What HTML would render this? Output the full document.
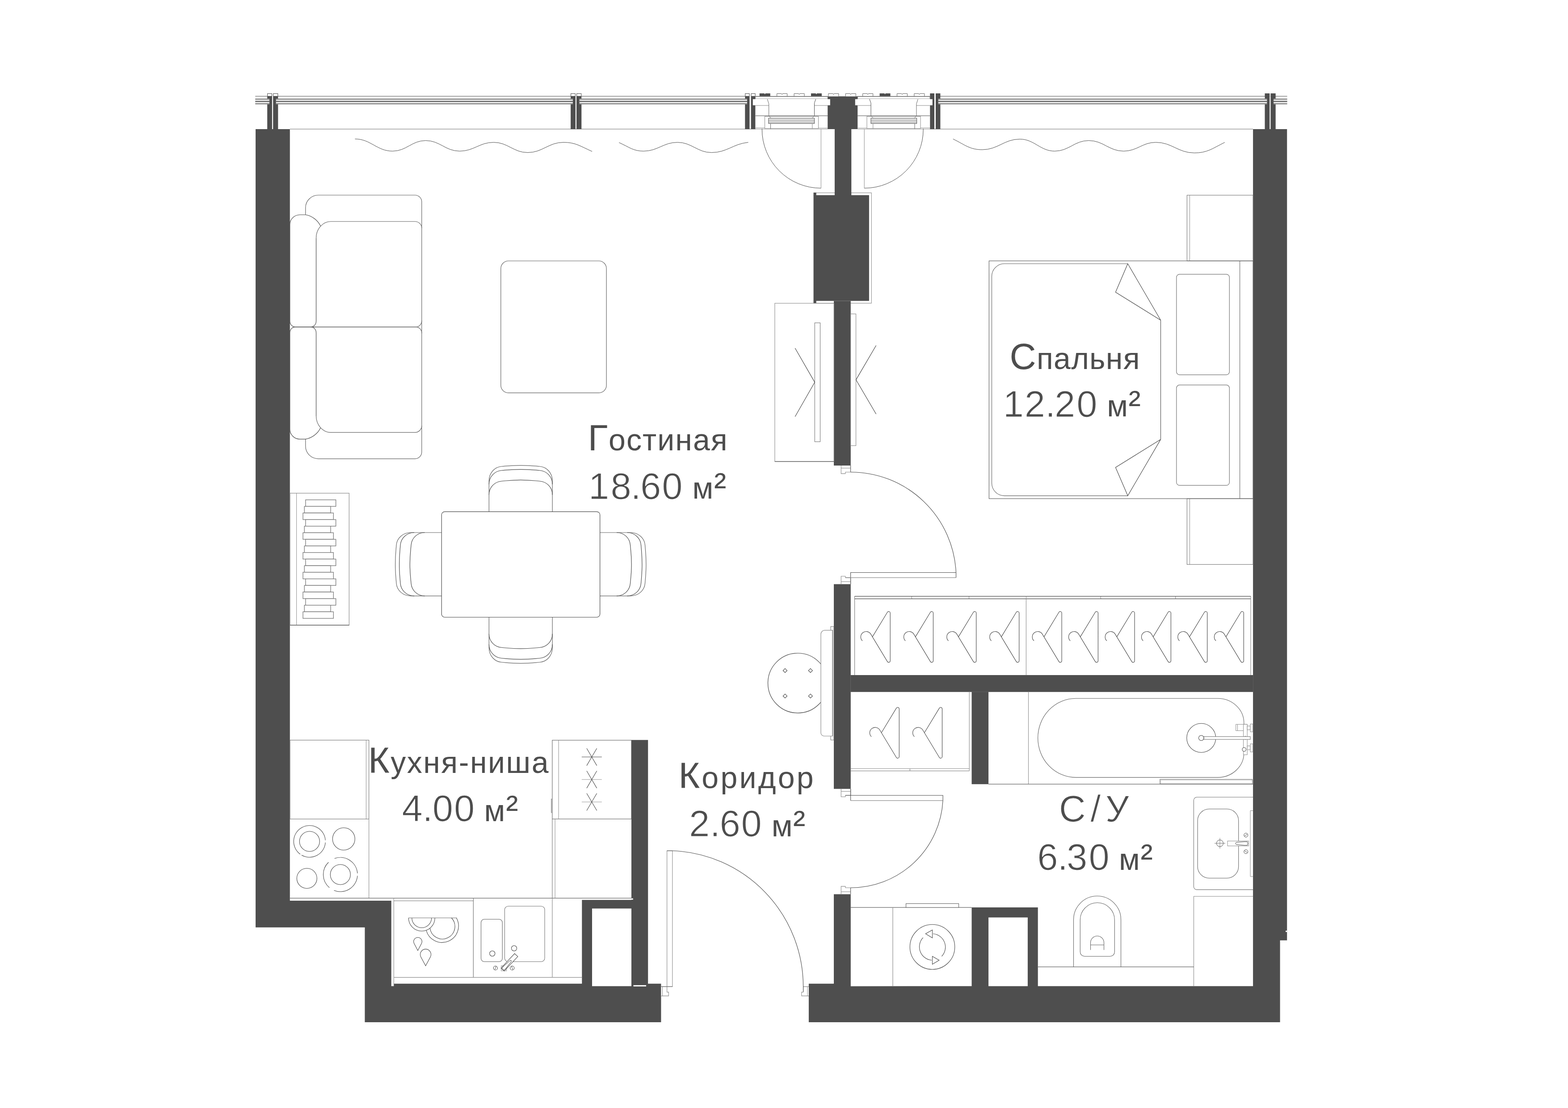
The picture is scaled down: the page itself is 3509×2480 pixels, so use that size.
<!DOCTYPE html>
<html lang="ru"><head><meta charset="utf-8"><title>Планировка</title>
<style>
html,body{margin:0;padding:0;background:#fff;}
body{width:3509px;height:2480px;overflow:hidden;position:relative;}
svg{display:block;position:absolute;left:0;top:0;}
.n{overflow:visible;}
.n text{font-family:"Liberation Sans",sans-serif;font-size:83.2px;fill:#4d4d4d;stroke:#fff;stroke-width:1.2px;}
.t{position:absolute;margin:0;padding:0;white-space:nowrap;line-height:100px;font-family:"Liberation Sans",sans-serif;color:#4d4d4d;font-size:68px;font-kerning:none;font-variant-ligatures:none;}
.w::first-letter{font-size:81.8px;}
.u{font-size:81.8px;}
.u::first-letter{font-size:68px;}
.c{font-size:83.2px;-webkit-text-stroke:1.2px #fff;}
</style></head><body>
<svg width="3509" height="2480" viewBox="0 0 3509 2480">
<rect width="3509" height="2480" fill="#fff"/>
<!-- pre -->
<rect x="1821.2" y="431.6" width="129" height="247" fill="none" stroke="#8c8c8c" stroke-width="1.1"/>
<!-- walls -->
<path d="M572 289 L648.75 289 L648.75 2016 L875.7 2016 L875.7 2207.3 L881.3 2207.3 L881.3 2201.7 L1302.3 2201.7 L1302.3 2014.2 L1413 2014.2 L1413 1656.3 L1450.2 1656.3 L1450.2 2201.7 L1479.4 2201.7 L1479.4 2288.1 L816.4 2288.1 L816.4 2075.7 L572 2075.7Z" fill="#4e4e4e" stroke="none"/>
<rect x="1325" y="2033.5" width="88" height="173.8" fill="#fff" stroke="none"/>
<path d="M1809.9 2201.7 L1866 2201.7 L1866 2001.5 L1903.8 2001.5 L1903.8 2207.4 L2174.5 2207.3 L2174.5 2031.1 L2322.7 2031.1 L2322.7 2207.3 L2804.1 2207.3 L2804.1 289 L2880.2 289 L2880.2 2104.8 L2864.6 2104.8 L2864.6 2288.1 L1809.9 2288.1Z" fill="#4e4e4e" stroke="none"/>
<rect x="2212.1" y="2053.5" width="87.8" height="153.8" fill="#fff" stroke="none"/>
<rect x="1903.6" y="1511" width="900.5" height="37.8" fill="#4e4e4e" stroke="none"/>
<rect x="2174.5" y="1548.5" width="37.6" height="206.7" fill="#4e4e4e" stroke="none"/>
<rect x="1851.9" y="215.6" width="67.85" height="73.4" fill="#4e4e4e" stroke="none"/>
<rect x="1867.9" y="289" width="37.35" height="148" fill="#4e4e4e" stroke="none"/>
<rect x="1820.7" y="436.8" width="124.2" height="236.7" fill="#4e4e4e" stroke="none"/>
<rect x="1866" y="673.5" width="37.8" height="368.5" fill="#4e4e4e" stroke="none"/>
<rect x="1866" y="1307.5" width="37.8" height="458.2" fill="#4e4e4e" stroke="none"/>
<rect x="2877.1" y="2083" width="3.3" height="3.1" fill="#fff" stroke="none"/>
<!-- topband -->
<rect x="648.7" y="288.2" width="1203.3" height="1.4" fill="#999" stroke="none"/>
<rect x="1919.7" y="288.2" width="884.3" height="1.4" fill="#999" stroke="none"/>
<rect x="571.2" y="214.9" width="31.7" height="1" fill="#4d4d4d" stroke="none"/>
<rect x="571.2" y="220.1" width="31.7" height="3.9" fill="#a6a6a6" stroke="none"/>
<rect x="571.2" y="226" width="31.7" height="2" fill="#444" stroke="none"/>
<rect x="571.2" y="230.1" width="31.7" height="3.9" fill="#a6a6a6" stroke="none"/>
<rect x="617.7" y="214.9" width="664.2" height="1" fill="#4d4d4d" stroke="none"/>
<rect x="617.7" y="220.1" width="664.2" height="3.9" fill="#a6a6a6" stroke="none"/>
<rect x="617.7" y="226" width="664.2" height="2" fill="#444" stroke="none"/>
<rect x="617.7" y="230.1" width="664.2" height="3.9" fill="#a6a6a6" stroke="none"/>
<rect x="1296.7" y="214.9" width="375.25" height="1" fill="#4d4d4d" stroke="none"/>
<rect x="1296.7" y="220.1" width="375.25" height="3.9" fill="#a6a6a6" stroke="none"/>
<rect x="1296.7" y="226" width="375.25" height="2" fill="#444" stroke="none"/>
<rect x="1296.7" y="230.1" width="375.25" height="3.9" fill="#a6a6a6" stroke="none"/>
<rect x="2099.8" y="214.9" width="735.8" height="1" fill="#4d4d4d" stroke="none"/>
<rect x="2099.8" y="220.1" width="735.8" height="3.9" fill="#a6a6a6" stroke="none"/>
<rect x="2099.8" y="226" width="735.8" height="2" fill="#444" stroke="none"/>
<rect x="2099.8" y="230.1" width="735.8" height="3.9" fill="#a6a6a6" stroke="none"/>
<rect x="2849.8" y="214.9" width="30.8" height="1" fill="#4d4d4d" stroke="none"/>
<rect x="2849.8" y="220.1" width="30.8" height="3.9" fill="#a6a6a6" stroke="none"/>
<rect x="2849.8" y="226" width="30.8" height="2" fill="#444" stroke="none"/>
<rect x="2849.8" y="230.1" width="30.8" height="3.9" fill="#a6a6a6" stroke="none"/>
<path d="M598.1 215 L608.9 215 L608.9 289 L598.1 289 L598.1 233.2 L602.9 233.2 L602.9 220.9 L598.1 220.9Z" fill="#4e4e4e" stroke="none"/>
<path d="M611.1 215 L622.3 215 L622.3 220.9 L617.7 220.9 L617.7 233.2 L622.3 233.2 L622.3 289 L611.1 289Z" fill="#4e4e4e" stroke="none"/>
<rect x="598.6" y="209.5" width="9.8" height="5.9" fill="#fff" stroke="#4d4d4d" stroke-width="1"/>
<rect x="611.6" y="209.5" width="10.2" height="5.9" fill="#fff" stroke="#4d4d4d" stroke-width="1"/>
<path d="M1277.1 215 L1287.9 215 L1287.9 289 L1277.1 289 L1277.1 233.2 L1281.9 233.2 L1281.9 220.9 L1277.1 220.9Z" fill="#4e4e4e" stroke="none"/>
<path d="M1290.1 215 L1301.3 215 L1301.3 220.9 L1296.7 220.9 L1296.7 233.2 L1301.3 233.2 L1301.3 289 L1290.1 289Z" fill="#4e4e4e" stroke="none"/>
<rect x="1277.6" y="209.5" width="9.8" height="5.9" fill="#fff" stroke="#4d4d4d" stroke-width="1"/>
<rect x="1290.6" y="209.5" width="10.2" height="5.9" fill="#fff" stroke="#4d4d4d" stroke-width="1"/>
<path d="M2830.5 215 L2841.3 215 L2841.3 289 L2830.5 289 L2830.5 233.2 L2835.3 233.2 L2835.3 220.9 L2830.5 220.9Z" fill="#4e4e4e" stroke="none"/>
<path d="M2843.5 215 L2854.7 215 L2854.7 220.9 L2850.1 220.9 L2850.1 233.2 L2854.7 233.2 L2854.7 289 L2843.5 289Z" fill="#4e4e4e" stroke="none"/>
<rect x="2830.5" y="209" width="10.8" height="7" fill="#4e4e4e" stroke="none"/>
<rect x="2843.5" y="209" width="11.2" height="7" fill="#4e4e4e" stroke="none"/>
<path d="M1667.25 215.4 L1677.5 215.4 L1677.5 289 L1667.25 289 L1667.25 233.2 L1671.95 233.2 L1671.95 220.9 L1667.25 220.9Z" fill="#4e4e4e" stroke="none"/>
<rect x="1667.75" y="209.5" width="9.25" height="5.9" fill="#fff" stroke="#4d4d4d" stroke-width="1"/>
<rect x="1680.6" y="215.4" width="10" height="73.6" fill="#4e4e4e" stroke="none"/>
<rect x="1681.1" y="209.5" width="9" height="5.9" fill="#fff" stroke="#4d4d4d" stroke-width="1"/>
<rect x="2081.25" y="215.4" width="9.75" height="73.6" fill="#4e4e4e" stroke="none"/>
<rect x="2081.25" y="209" width="9.75" height="7" fill="#4e4e4e" stroke="none"/>
<path d="M2094 215.4 L2104.4 215.4 L2104.4 220.9 L2099.8 220.9 L2099.8 233.2 L2104.4 233.2 L2104.4 289 L2094 289Z" fill="#4e4e4e" stroke="none"/>
<rect x="2094" y="209" width="10.4" height="7" fill="#4e4e4e" stroke="none"/>
<path d="M1699.75 215.6 V209 H1710.45 l1.3 2 l1.3 -2 H1723.75 V215.6 Z" fill="#4e4e4e" stroke="none" stroke-width="1"/>
<path d="M1738.65 215.6 V209.5 H1748.85 l1.3 2 l1.3 -2 H1761.65 V215.6" fill="#fff" stroke="#666" stroke-width="1"/>
<path d="M1777.05 215.6 V209.5 H1787.25 l1.3 2 l1.3 -2 H1800.05 V215.6" fill="#fff" stroke="#666" stroke-width="1"/>
<path d="M1814.95 215.6 V209 H1825.65 l1.3 2 l1.3 -2 H1838.95 V215.6 Z" fill="#4e4e4e" stroke="none" stroke-width="1"/>
<path d="M1853.85 215.6 V209.5 H1864.05 l1.3 2 l1.3 -2 H1876.85 V215.6" fill="#fff" stroke="#666" stroke-width="1"/>
<path d="M1892.25 215.6 V209.5 H1902.45 l1.3 2 l1.3 -2 H1915.25 V215.6" fill="#fff" stroke="#666" stroke-width="1"/>
<path d="M1930.65 215.6 V209.5 H1940.85 l1.3 2 l1.3 -2 H1953.65 V215.6" fill="#fff" stroke="#666" stroke-width="1"/>
<path d="M1968.55 215.6 V209 H1979.25 l1.3 2 l1.3 -2 H1992.55 V215.6 Z" fill="#4e4e4e" stroke="none" stroke-width="1"/>
<path d="M2007.45 215.6 V209.5 H2017.65 l1.3 2 l1.3 -2 H2030.45 V215.6" fill="#fff" stroke="#666" stroke-width="1"/>
<path d="M2045.85 215.6 V209.5 H2056.05 l1.3 2 l1.3 -2 H2068.85 V215.6" fill="#fff" stroke="#666" stroke-width="1"/>
<rect x="1690.6" y="215.6" width="161.6" height="5.4" fill="#fff" stroke="#8a8a8a" stroke-width="1"/>
<line x1="1690.6" y1="216" x2="1852.2" y2="216" stroke="#4d4d4d" stroke-width="1"/>
<rect x="1690.6" y="221.5" width="161.6" height="67" fill="#fff" stroke="none"/>
<rect x="1684.75" y="221.9" width="34.65" height="13.7" fill="#fff" stroke="none"/>
<rect x="1823.1" y="221.9" width="34.65" height="13.7" fill="#fff" stroke="none"/>
<line x1="1690.6" y1="236.1" x2="1720.6" y2="236.1" stroke="#8a8a8a" stroke-width="1"/>
<line x1="1822.5" y1="236.1" x2="1852" y2="236.1" stroke="#8a8a8a" stroke-width="1"/>
<path d="M1717.25 221.9 L1720.6 232.5 V258.75" fill="none" stroke="#666" stroke-width="1"/>
<path d="M1825.6 221.9 L1822.5 230.6 V258.75" fill="none" stroke="#4d4d4d" stroke-width="1"/>
<line x1="1690.6" y1="259.1" x2="1852.2" y2="259.1" stroke="#4d4d4d" stroke-width="1"/>
<path d="M1720.6 259 L1725 264.4" fill="none" stroke="#4d4d4d" stroke-width="0.8"/>
<path d="M1822.5 259 L1817.5 264.4" fill="none" stroke="#4d4d4d" stroke-width="0.8"/>
<rect x="1711.5" y="260.5" width="120" height="27" fill="none" stroke="#8a8a8a" stroke-width="1"/>
<rect x="1719.9" y="264.6" width="102.6" height="11.8" fill="#fff" stroke="#4d4d4d" stroke-width="1"/>
<line x1="1720" y1="267.4" x2="1822.5" y2="267.4" stroke="#8a8a8a" stroke-width="1"/>
<line x1="1720" y1="270.7" x2="1822.5" y2="270.7" stroke="#4d4d4d" stroke-width="1"/>
<line x1="1720" y1="274.3" x2="1822.5" y2="274.3" stroke="#4d4d4d" stroke-width="0.8"/>
<line x1="1724.5" y1="276.5" x2="1724.5" y2="288.5" stroke="#666" stroke-width="1"/>
<line x1="1817.8" y1="276.5" x2="1817.8" y2="288.5" stroke="#8a8a8a" stroke-width="1"/>
<line x1="1690.6" y1="286.4" x2="1711.5" y2="286.4" stroke="#8a8a8a" stroke-width="1"/>
<line x1="1831.5" y1="286.8" x2="1852" y2="286.8" stroke="#8a8a8a" stroke-width="1"/>
<line x1="1837.3" y1="289" x2="1837.3" y2="421.2" stroke="#8a8a8a" stroke-width="1"/>
<path d="M1705.3 288 V289 A132 132 0 0 0 1837.3 421.2" fill="none" stroke="#4d4d4d" stroke-width="1"/>
<g transform="translate(3771.5 0) scale(-1 1)">
<rect x="1690.6" y="215.6" width="161.6" height="5.4" fill="#fff" stroke="#8a8a8a" stroke-width="1"/>
<line x1="1690.6" y1="216" x2="1852.2" y2="216" stroke="#4d4d4d" stroke-width="1"/>
<rect x="1690.6" y="221.5" width="161.6" height="67" fill="#fff" stroke="none"/>
<rect x="1684.75" y="221.9" width="34.65" height="13.7" fill="#fff" stroke="none"/>
<rect x="1823.1" y="221.9" width="34.65" height="13.7" fill="#fff" stroke="none"/>
<line x1="1690.6" y1="236.1" x2="1720.6" y2="236.1" stroke="#8a8a8a" stroke-width="1"/>
<line x1="1822.5" y1="236.1" x2="1852" y2="236.1" stroke="#8a8a8a" stroke-width="1"/>
<path d="M1717.25 221.9 L1720.6 232.5 V258.75" fill="none" stroke="#666" stroke-width="1"/>
<path d="M1825.6 221.9 L1822.5 230.6 V258.75" fill="none" stroke="#4d4d4d" stroke-width="1"/>
<line x1="1690.6" y1="259.1" x2="1852.2" y2="259.1" stroke="#4d4d4d" stroke-width="1"/>
<path d="M1720.6 259 L1725 264.4" fill="none" stroke="#4d4d4d" stroke-width="0.8"/>
<path d="M1822.5 259 L1817.5 264.4" fill="none" stroke="#4d4d4d" stroke-width="0.8"/>
<rect x="1711.5" y="260.5" width="120" height="27" fill="none" stroke="#8a8a8a" stroke-width="1"/>
<rect x="1719.9" y="264.6" width="102.6" height="11.8" fill="#fff" stroke="#4d4d4d" stroke-width="1"/>
<line x1="1720" y1="267.4" x2="1822.5" y2="267.4" stroke="#8a8a8a" stroke-width="1"/>
<line x1="1720" y1="270.7" x2="1822.5" y2="270.7" stroke="#4d4d4d" stroke-width="1"/>
<line x1="1720" y1="274.3" x2="1822.5" y2="274.3" stroke="#4d4d4d" stroke-width="0.8"/>
<line x1="1724.5" y1="276.5" x2="1724.5" y2="288.5" stroke="#666" stroke-width="1"/>
<line x1="1817.8" y1="276.5" x2="1817.8" y2="288.5" stroke="#8a8a8a" stroke-width="1"/>
<line x1="1690.6" y1="286.4" x2="1711.5" y2="286.4" stroke="#8a8a8a" stroke-width="1"/>
<line x1="1831.5" y1="286.8" x2="1852" y2="286.8" stroke="#8a8a8a" stroke-width="1"/>
<line x1="1837.3" y1="289" x2="1837.3" y2="421.2" stroke="#8a8a8a" stroke-width="1"/>
<path d="M1705.3 288 V289 A132 132 0 0 0 1837.3 421.2" fill="none" stroke="#4d4d4d" stroke-width="1"/>
</g>
<path d="M794.39 311.01 C829.72 311.01 843.18 338.25 878.5 338.25 C909.63 338.25 921.48 314.62 952.6 314.62 C984.57 314.62 996.74 338.25 1028.7 338.25 C1060.67 338.25 1072.84 318.62 1104.81 318.62 C1136.77 318.62 1148.95 341.46 1180.91 341.46 C1214.55 341.46 1227.37 318.62 1261.01 318.62 C1287.93 318.62 1298.18 326.94 1325.1 339.05" fill="none" stroke="#4d4d4d" stroke-width="1"/>
<path d="M1385.31 319.03 C1408.36 329.4 1417.14 338.25 1440.19 338.25 C1472.15 338.25 1484.33 318.62 1516.29 318.62 C1548.25 318.62 1560.43 341.46 1592.39 341.46 C1626.88 341.46 1640.01 322.07 1674.5 318.62" fill="none" stroke="#4d4d4d" stroke-width="1"/>
<path d="M2132.84 311.01 C2160.26 324.72 2170.71 335.05 2198.13 335.05 C2233.46 335.05 2246.92 311.42 2282.24 311.42 C2315.05 311.42 2327.54 338.25 2360.35 338.25 C2392.31 338.25 2404.49 314.62 2436.45 314.62 C2469.25 314.62 2481.75 338.25 2514.55 338.25 C2544.83 338.25 2556.37 318.62 2586.65 318.62 C2622.82 318.62 2636.6 342.26 2672.76 342.26 C2701.36 342.26 2712.26 332.92 2740.85 318.62" fill="none" stroke="#4d4d4d" stroke-width="1"/>
<!-- living -->
<path d="M683.75 480.75 L683.75 465 C683.75 449.25 696.75 436.75 712.5 436.75 L928.75 436.75 C937 436.75 943.75 443.5 943.75 451.75 L943.75 731.75" fill="none" stroke="#666" stroke-width="1.2"/>
<path d="M648.75 718.75 L648.75 502.5 C648.75 490.5 658.75 480.75 671.25 480.75 L683.75 480.75 C697 482.5 711.25 492.5 717.5 506.25 M707.5 532.5 L707.5 718.75 C707.5 726 702.5 731.75 695.5 731.75 L660.5 731.75 C653.75 731.75 648.75 726 648.75 718.75" fill="none" stroke="#4d4d4d" stroke-width="1.2"/>
<path d="M707.5 532.5 C707.5 512.25 722.5 495.75 740 495.75 L928.75 495.75 C937 495.75 943.75 502.5 943.75 510.5 M943.75 717.5 C943.75 725.5 938 731.75 931.25 731.75 L695.5 731.75" fill="none" stroke="#666" stroke-width="1.2"/>
<g transform="translate(0 1463.6) scale(1 -1)">
<path d="M683.75 480.75 L683.75 465 C683.75 449.25 696.75 436.75 712.5 436.75 L928.75 436.75 C937 436.75 943.75 443.5 943.75 451.75 L943.75 731.75" fill="none" stroke="#666" stroke-width="1.2"/>
<path d="M648.75 718.75 L648.75 502.5 C648.75 490.5 658.75 480.75 671.25 480.75 L683.75 480.75 C697 482.5 711.25 492.5 717.5 506.25 M707.5 532.5 L707.5 718.75 C707.5 726 702.5 731.75 695.5 731.75 L660.5 731.75 C653.75 731.75 648.75 726 648.75 718.75" fill="none" stroke="#4d4d4d" stroke-width="1.2"/>
<path d="M707.5 532.5 C707.5 512.25 722.5 495.75 740 495.75 L928.75 495.75 C937 495.75 943.75 502.5 943.75 510.5 M943.75 717.5 C943.75 725.5 938 731.75 931.25 731.75 L695.5 731.75" fill="none" stroke="#666" stroke-width="1.2"/>
</g>
<rect x="1120.8" y="584" width="236.3" height="295.3" fill="none" stroke="#666" stroke-width="1.2" rx="17"/>
<g transform="translate(1165.25 1145) rotate(0)">
<path d="M-70.9 0 V-68.5 C-70.9 -86.38 -58.4 -99.76 -42.9 -101 C-28.9 -102.1 -21 -103.4 0 -103.4 C21 -103.4 28.9 -102.1 42.9 -101 C58.4 -99.76 70.9 -86.38 70.9 -68.5 V0" fill="none" stroke="#666" stroke-width="1.2"/>
<path d="M-70.9 -61 C-70.9 -78.05 -58.4 -90.76 -42.9 -92 C-28.9 -93.1 -21 -94.4 0 -94.4 C21 -94.4 28.9 -93.1 42.9 -92 C58.4 -90.76 70.9 -78.05 70.9 -61" fill="none" stroke="#4d4d4d" stroke-width="1.2"/>
<path d="M-70.9 -37.5 C-70.9 -54.28 -58.4 -66.76 -42.9 -68 C-28.9 -69.1 -21 -70.7 0 -70.7 C21 -70.7 28.9 -69.1 42.9 -68 C58.4 -66.76 70.9 -54.28 70.9 -37.5" fill="none" stroke="#4d4d4d" stroke-width="1.2"/>
</g>
<g transform="translate(1165.25 1381.25) rotate(180)">
<path d="M-70.9 0 V-68.5 C-70.9 -86.38 -58.4 -99.76 -42.9 -101 C-28.9 -102.1 -21 -103.4 0 -103.4 C21 -103.4 28.9 -102.1 42.9 -101 C58.4 -99.76 70.9 -86.38 70.9 -68.5 V0" fill="none" stroke="#666" stroke-width="1.2"/>
<path d="M-70.9 -61 C-70.9 -78.05 -58.4 -90.76 -42.9 -92 C-28.9 -93.1 -21 -94.4 0 -94.4 C21 -94.4 28.9 -93.1 42.9 -92 C58.4 -90.76 70.9 -78.05 70.9 -61" fill="none" stroke="#4d4d4d" stroke-width="1.2"/>
<path d="M-70.9 -37.5 C-70.9 -54.28 -58.4 -66.76 -42.9 -68 C-28.9 -69.1 -21 -70.7 0 -70.7 C21 -70.7 28.9 -69.1 42.9 -68 C58.4 -66.76 70.9 -54.28 70.9 -37.5" fill="none" stroke="#4d4d4d" stroke-width="1.2"/>
</g>
<g transform="translate(988 1262.9) rotate(-90)">
<path d="M-70.9 0 V-68.5 C-70.9 -86.38 -58.4 -99.76 -42.9 -101 C-28.9 -102.1 -21 -103.4 0 -103.4 C21 -103.4 28.9 -102.1 42.9 -101 C58.4 -99.76 70.9 -86.38 70.9 -68.5 V0" fill="none" stroke="#666" stroke-width="1.2"/>
<path d="M-70.9 -61 C-70.9 -78.05 -58.4 -90.76 -42.9 -92 C-28.9 -93.1 -21 -94.4 0 -94.4 C21 -94.4 28.9 -93.1 42.9 -92 C58.4 -90.76 70.9 -78.05 70.9 -61" fill="none" stroke="#4d4d4d" stroke-width="1.2"/>
<path d="M-70.9 -37.5 C-70.9 -54.28 -58.4 -66.76 -42.9 -68 C-28.9 -69.1 -21 -70.7 0 -70.7 C21 -70.7 28.9 -69.1 42.9 -68 C58.4 -66.76 70.9 -54.28 70.9 -37.5" fill="none" stroke="#4d4d4d" stroke-width="1.2"/>
</g>
<g transform="translate(1342.5 1262.9) rotate(90)">
<path d="M-70.9 0 V-68.5 C-70.9 -86.38 -58.4 -99.76 -42.9 -101 C-28.9 -102.1 -21 -103.4 0 -103.4 C21 -103.4 28.9 -102.1 42.9 -101 C58.4 -99.76 70.9 -86.38 70.9 -68.5 V0" fill="none" stroke="#666" stroke-width="1.2"/>
<path d="M-70.9 -61 C-70.9 -78.05 -58.4 -90.76 -42.9 -92 C-28.9 -93.1 -21 -94.4 0 -94.4 C21 -94.4 28.9 -93.1 42.9 -92 C58.4 -90.76 70.9 -78.05 70.9 -61" fill="none" stroke="#4d4d4d" stroke-width="1.2"/>
<path d="M-70.9 -37.5 C-70.9 -54.28 -58.4 -66.76 -42.9 -68 C-28.9 -69.1 -21 -70.7 0 -70.7 C21 -70.7 28.9 -69.1 42.9 -68 C58.4 -66.76 70.9 -54.28 70.9 -37.5" fill="none" stroke="#4d4d4d" stroke-width="1.2"/>
</g>
<rect x="988.2" y="1145.3" width="354.4" height="236.2" fill="#fff" stroke="#4d4d4d" stroke-width="1.2" rx="7"/>
<rect x="649" y="1103.9" width="132.3" height="295.4" fill="none" stroke="#8c8c8c" stroke-width="1.2"/>
<line x1="649" y1="1399.3" x2="781.3" y2="1399.3" stroke="#4d4d4d" stroke-width="1.2"/>
<line x1="663.6" y1="1104" x2="663.6" y2="1399" stroke="#8c8c8c" stroke-width="1"/>
<rect x="683.9" y="1118.7" width="67.7" height="14.74" fill="#fff" stroke="#777" stroke-width="1.3"/>
<rect x="681.2" y="1133.44" width="58.8" height="14.74" fill="#fff" stroke="#777" stroke-width="1.3"/>
<rect x="678" y="1148.19" width="68.2" height="14.74" fill="#fff" stroke="#777" stroke-width="1.3"/>
<rect x="683.9" y="1162.93" width="67.7" height="14.74" fill="#fff" stroke="#777" stroke-width="1.3"/>
<rect x="681.2" y="1177.68" width="58.8" height="14.74" fill="#fff" stroke="#777" stroke-width="1.3"/>
<rect x="678" y="1192.42" width="68.2" height="14.74" fill="#fff" stroke="#777" stroke-width="1.3"/>
<rect x="683.9" y="1207.17" width="67.7" height="14.74" fill="#fff" stroke="#777" stroke-width="1.3"/>
<rect x="681.2" y="1221.91" width="58.8" height="14.74" fill="#fff" stroke="#777" stroke-width="1.3"/>
<rect x="678" y="1236.66" width="68.2" height="14.74" fill="#fff" stroke="#777" stroke-width="1.3"/>
<rect x="683.9" y="1251.4" width="67.7" height="14.74" fill="#fff" stroke="#777" stroke-width="1.3"/>
<rect x="681.2" y="1266.14" width="58.8" height="14.74" fill="#fff" stroke="#777" stroke-width="1.3"/>
<rect x="678" y="1280.89" width="68.2" height="14.74" fill="#fff" stroke="#777" stroke-width="1.3"/>
<rect x="683.9" y="1295.63" width="67.7" height="14.74" fill="#fff" stroke="#777" stroke-width="1.3"/>
<rect x="681.2" y="1310.38" width="58.8" height="14.74" fill="#fff" stroke="#777" stroke-width="1.3"/>
<rect x="678" y="1325.12" width="68.2" height="14.74" fill="#fff" stroke="#777" stroke-width="1.3"/>
<rect x="683.9" y="1339.87" width="67.7" height="14.74" fill="#fff" stroke="#777" stroke-width="1.3"/>
<rect x="681.2" y="1354.61" width="58.8" height="14.74" fill="#fff" stroke="#777" stroke-width="1.3"/>
<rect x="678" y="1369.36" width="68.2" height="14.74" fill="#fff" stroke="#777" stroke-width="1.3"/>
<!-- center -->
<rect x="1820.7" y="431" width="6" height="6.5" fill="#4e4e4e" stroke="none"/>
<rect x="1820.7" y="673" width="6" height="6" fill="#4e4e4e" stroke="none"/>
<rect x="1733.9" y="678.8" width="132.3" height="354.2" fill="none" stroke="#8c8c8c" stroke-width="1.1"/>
<line x1="1733.9" y1="1033" x2="1866.2" y2="1033" stroke="#4d4d4d" stroke-width="1.2"/>
<rect x="1823.3" y="722.6" width="12.2" height="266.1" fill="#fff" stroke="#777" stroke-width="1.1"/>
<path d="M1779.3 779.3 L1823.3 855.6 L1779.3 932.5" fill="none" stroke="#4d4d4d" stroke-width="1.2"/>
<rect x="1903.7" y="702.6" width="11.8" height="294.9" fill="#fff" stroke="#8c8c8c" stroke-width="1.1"/>
<path d="M1960.6 773.3 L1915.6 850.1 L1960.6 926.8" fill="none" stroke="#4d4d4d" stroke-width="1.2"/>
<path d="M1882.3 1042 V1060.1 H1891.9 V1056.7 H1903.6" fill="#fff" stroke="#8c8c8c" stroke-width="1.1"/>
<line x1="1882.3" y1="1047.8" x2="1903.6" y2="1047.8" stroke="#8c8c8c" stroke-width="1.1"/>
<line x1="1903.6" y1="1042" x2="1903.6" y2="1056.7" stroke="#4d4d4d" stroke-width="1.1"/>
<path d="M1882.3 1307.6 V1289.8 H1891.9 V1292.9 H1903.6" fill="#fff" stroke="#8c8c8c" stroke-width="1.1"/>
<line x1="1882.3" y1="1301.9" x2="1903.6" y2="1301.9" stroke="#8c8c8c" stroke-width="1.1"/>
<line x1="1903.6" y1="1292.9" x2="1903.6" y2="1307.6" stroke="#4d4d4d" stroke-width="1.1"/>
<path d="M1903.6 1307.6 V1281.5 H2139.5 V1292.9" fill="none" stroke="#4d4d4d" stroke-width="1.1"/>
<line x1="1891.9" y1="1292.9" x2="2139.5" y2="1292.9" stroke="#8c8c8c" stroke-width="1.2"/>
<path d="M1903.6 1056.7 A236 236 0 0 1 2139.5 1281.5" fill="none" stroke="#4d4d4d" stroke-width="1.1"/>
<path d="M1882.3 1765.7 V1783.5 H1891.9 V1780.3 H1903.6" fill="#fff" stroke="#8c8c8c" stroke-width="1.1"/>
<line x1="1882.3" y1="1771.3" x2="1903.6" y2="1771.3" stroke="#8c8c8c" stroke-width="1.1"/>
<line x1="1903.6" y1="1765.7" x2="1903.6" y2="1780.3" stroke="#4d4d4d" stroke-width="1.1"/>
<path d="M1882.3 2001.6 V1983.9 H1891.9 V1987 H1903.6" fill="#fff" stroke="#8c8c8c" stroke-width="1.1"/>
<line x1="1882.3" y1="1996" x2="1903.6" y2="1996" stroke="#8c8c8c" stroke-width="1.1"/>
<line x1="1903.6" y1="1987" x2="1903.6" y2="2001.6" stroke="#4d4d4d" stroke-width="1.1"/>
<path d="M1891.9 1780.3 H2110.1 V1791.9" fill="none" stroke="#4d4d4d" stroke-width="1.1"/>
<path d="M1903.6 1765.7 V1791.9" fill="none" stroke="#4d4d4d" stroke-width="1.1"/>
<line x1="1903.6" y1="1791.9" x2="2110.1" y2="1791.9" stroke="#8c8c8c" stroke-width="1.2"/>
<path d="M2110.1 1791.9 A206.5 206.5 0 0 1 1903.6 1987.0" fill="none" stroke="#4d4d4d" stroke-width="1.1"/>
<path d="M1479.8 2208.4 H1492.6 V2220.6 H1496.3 V2229.1 H1479.8" fill="#fff" stroke="#8c8c8c" stroke-width="1.1"/>
<line x1="1482.5" y1="2208.4" x2="1482.5" y2="2229.1" stroke="#8c8c8c" stroke-width="1"/>
<path d="M1809.8 2208.4 H1797.6 V2220.6 H1793.9 V2229.1 H1809.8" fill="#fff" stroke="#8c8c8c" stroke-width="1.1"/>
<line x1="1807" y1="2208.4" x2="1807" y2="2229.1" stroke="#8c8c8c" stroke-width="1"/>
<path d="M1492.6 2208.4 V1904.2 H1504.8 V2208.4 Z" fill="#fff" stroke="#8c8c8c" stroke-width="1.1"/>
<line x1="1479.8" y1="2208.4" x2="1504.8" y2="2208.4" stroke="#666" stroke-width="1.1"/>
<path d="M1492.6 1904.2 H1504.8 A304.6 304.6 0 0 1 1797.6 2208.4 V2220" fill="none" stroke="#4d4d4d" stroke-width="1.1"/>
<rect x="1417.5" y="2205" width="28.5" height="2.9" fill="#fff" stroke="none"/>
<!-- bedroom -->
<rect x="2656.4" y="436.9" width="147.7" height="147" fill="none" stroke="#777" stroke-width="1.1"/>
<line x1="2662.4" y1="437" x2="2662.4" y2="584" stroke="#8c8c8c" stroke-width="1"/>
<rect x="2656.4" y="1116.1" width="147.7" height="147.3" fill="none" stroke="#777" stroke-width="1.1"/>
<line x1="2662.4" y1="1116" x2="2662.4" y2="1263.4" stroke="#8c8c8c" stroke-width="1"/>
<rect x="2213.4" y="583.9" width="590.7" height="532.2" fill="none" stroke="#666" stroke-width="1.2"/>
<line x1="2774.6" y1="584" x2="2774.6" y2="1116" stroke="#666" stroke-width="1.1"/>
<path d="M2523.8 590.3 H2247.4 A28 28 0 0 0 2219.5 618.3 V1081.6 A28 28 0 0 0 2247.4 1109.6 H2523.8" fill="none" stroke="#666" stroke-width="1.1"/>
<path d="M2523.8 590.3 L2496.5 654 L2597.5 716.8 Z" fill="#fff" stroke="#4d4d4d" stroke-width="1.2"/>
<path d="M2523.8 1109.6 L2496.5 1046.3 L2597.5 983.4 Z" fill="#fff" stroke="#4d4d4d" stroke-width="1.2"/>
<line x1="2597.5" y1="716.8" x2="2597.5" y2="983.4" stroke="#4d4d4d" stroke-width="1.1"/>
<rect x="2632.8" y="613.9" width="118.5" height="225" fill="none" stroke="#777" stroke-width="1.2" rx="7"/>
<rect x="2632.8" y="861.7" width="118.5" height="224.7" fill="none" stroke="#777" stroke-width="1.2" rx="7"/>
<line x1="1912.5" y1="1334.6" x2="2799" y2="1334.6" stroke="#4d4d4d" stroke-width="1.2"/>
<line x1="1912.5" y1="1340.4" x2="2799" y2="1340.4" stroke="#4d4d4d" stroke-width="1.2"/>
<line x1="1912.6" y1="1334.6" x2="1912.6" y2="1511.3" stroke="#777" stroke-width="1.1"/>
<line x1="2799" y1="1334.6" x2="2799" y2="1511.3" stroke="#888" stroke-width="1.1"/>
<line x1="2040.4" y1="1334.6" x2="2040.4" y2="1340.4" stroke="#777" stroke-width="1"/>
<line x1="2168.5" y1="1334.6" x2="2168.5" y2="1340.4" stroke="#777" stroke-width="1"/>
<line x1="2463.4" y1="1334.6" x2="2463.4" y2="1340.4" stroke="#777" stroke-width="1"/>
<line x1="2630.8" y1="1334.6" x2="2630.8" y2="1340.4" stroke="#777" stroke-width="1"/>
<line x1="2296.4" y1="1334.6" x2="2296.4" y2="1511.3" stroke="#8c8c8c" stroke-width="1.1"/>
<g transform="translate(1991.9 1425.6)">
<path d="M-39.6 0 L-6.0 -55.3 A3.4 3.4 0 0 1 0.3 -53.8 V53.8 A3.4 3.4 0 0 1 -6.0 55.3 L-43.3 -6.5 A12.1 12.1 0 1 0 -61.86 8.75" fill="none" stroke="#4d4d4d" stroke-width="1.15"/>
</g>
<g transform="translate(2088.15 1425.6)">
<path d="M-39.6 0 L-6.0 -55.3 A3.4 3.4 0 0 1 0.3 -53.8 V53.8 A3.4 3.4 0 0 1 -6.0 55.3 L-43.3 -6.5 A12.1 12.1 0 1 0 -61.86 8.75" fill="none" stroke="#4d4d4d" stroke-width="1.15"/>
</g>
<g transform="translate(2184.4 1425.6)">
<path d="M-39.6 0 L-6.0 -55.3 A3.4 3.4 0 0 1 0.3 -53.8 V53.8 A3.4 3.4 0 0 1 -6.0 55.3 L-43.3 -6.5 A12.1 12.1 0 1 0 -61.86 8.75" fill="none" stroke="#4d4d4d" stroke-width="1.15"/>
</g>
<g transform="translate(2280.4 1425.6)">
<path d="M-39.6 0 L-6.0 -55.3 A3.4 3.4 0 0 1 0.3 -53.8 V53.8 A3.4 3.4 0 0 1 -6.0 55.3 L-43.3 -6.5 A12.1 12.1 0 1 0 -61.86 8.75" fill="none" stroke="#4d4d4d" stroke-width="1.15"/>
</g>
<g transform="translate(2375.8 1425.6)">
<path d="M-39.6 0 L-6.0 -55.3 A3.4 3.4 0 0 1 0.3 -53.8 V53.8 A3.4 3.4 0 0 1 -6.0 55.3 L-43.3 -6.5 A12.1 12.1 0 1 0 -61.86 8.75" fill="none" stroke="#4d4d4d" stroke-width="1.15"/>
</g>
<g transform="translate(2457.1 1425.6)">
<path d="M-39.6 0 L-6.0 -55.3 A3.4 3.4 0 0 1 0.3 -53.8 V53.8 A3.4 3.4 0 0 1 -6.0 55.3 L-43.3 -6.5 A12.1 12.1 0 1 0 -61.86 8.75" fill="none" stroke="#4d4d4d" stroke-width="1.15"/>
</g>
<g transform="translate(2538.8 1425.6)">
<path d="M-39.6 0 L-6.0 -55.3 A3.4 3.4 0 0 1 0.3 -53.8 V53.8 A3.4 3.4 0 0 1 -6.0 55.3 L-43.3 -6.5 A12.1 12.1 0 1 0 -61.86 8.75" fill="none" stroke="#4d4d4d" stroke-width="1.15"/>
</g>
<g transform="translate(2620.1 1425.6)">
<path d="M-39.6 0 L-6.0 -55.3 A3.4 3.4 0 0 1 0.3 -53.8 V53.8 A3.4 3.4 0 0 1 -6.0 55.3 L-43.3 -6.5 A12.1 12.1 0 1 0 -61.86 8.75" fill="none" stroke="#4d4d4d" stroke-width="1.15"/>
</g>
<g transform="translate(2701.4 1425.6)">
<path d="M-39.6 0 L-6.0 -55.3 A3.4 3.4 0 0 1 0.3 -53.8 V53.8 A3.4 3.4 0 0 1 -6.0 55.3 L-43.3 -6.5 A12.1 12.1 0 1 0 -61.86 8.75" fill="none" stroke="#4d4d4d" stroke-width="1.15"/>
</g>
<g transform="translate(2783 1425.6)">
<path d="M-39.6 0 L-6.0 -55.3 A3.4 3.4 0 0 1 0.3 -53.8 V53.8 A3.4 3.4 0 0 1 -6.0 55.3 L-43.3 -6.5 A12.1 12.1 0 1 0 -61.86 8.75" fill="none" stroke="#4d4d4d" stroke-width="1.15"/>
</g>
<line x1="1903.6" y1="1720.5" x2="2169.2" y2="1720.5" stroke="#8c8c8c" stroke-width="1.1"/>
<line x1="1903.6" y1="1725.5" x2="2169.2" y2="1725.5" stroke="#777" stroke-width="1.1"/>
<line x1="2169.2" y1="1548.1" x2="2169.2" y2="1725.5" stroke="#8c8c8c" stroke-width="1.1"/>
<line x1="2036.3" y1="1720.5" x2="2036.3" y2="1725.5" stroke="#777" stroke-width="1"/>
<g transform="translate(2012 1640.2)">
<path d="M-39.6 0 L-6.0 -55.3 A3.4 3.4 0 0 1 0.3 -53.8 V53.8 A3.4 3.4 0 0 1 -6.0 55.3 L-43.3 -6.5 A12.1 12.1 0 1 0 -61.86 8.75" fill="none" stroke="#4d4d4d" stroke-width="1.15"/>
</g>
<g transform="translate(2108.2 1640.2)">
<path d="M-39.6 0 L-6.0 -55.3 A3.4 3.4 0 0 1 0.3 -53.8 V53.8 A3.4 3.4 0 0 1 -6.0 55.3 L-43.3 -6.5 A12.1 12.1 0 1 0 -61.86 8.75" fill="none" stroke="#4d4d4d" stroke-width="1.15"/>
</g>
<!-- kitchen -->
<rect x="649" y="1656.6" width="176.6" height="176.6" fill="none" stroke="#777" stroke-width="1.1"/>
<line x1="819.4" y1="1656.6" x2="819.4" y2="1833.2" stroke="#8c8c8c" stroke-width="1"/>
<line x1="825.6" y1="1833.2" x2="825.6" y2="2010.4" stroke="#8c8c8c" stroke-width="1.1"/>
<line x1="649" y1="2010.4" x2="1416.8" y2="2010.4" stroke="#666" stroke-width="1.2"/>
<rect x="1413" y="2010.9" width="3.8" height="2.9" fill="#fff" stroke="none"/>
<line x1="881.3" y1="2010.4" x2="881.3" y2="2207.3" stroke="#8c8c8c" stroke-width="1.1"/>
<line x1="881.3" y1="2016.2" x2="1059.3" y2="2016.2" stroke="#777" stroke-width="1.1"/>
<line x1="881.3" y1="2187.6" x2="1302.4" y2="2187.6" stroke="#8c8c8c" stroke-width="1.2"/>
<line x1="1059.3" y1="2010.4" x2="1059.3" y2="2187.6" stroke="#777" stroke-width="1.2"/>
<line x1="1235.9" y1="2010.4" x2="1235.9" y2="2187.6" stroke="#8c8c8c" stroke-width="1.2"/>
<rect x="1235.9" y="1656.8" width="177.1" height="176.3" fill="none" stroke="#666" stroke-width="1.1"/>
<line x1="1250.1" y1="1656.8" x2="1250.1" y2="1833.1" stroke="#8c8c8c" stroke-width="1"/>
<rect x="1233.4" y="1788.3" width="2.5" height="30.7" fill="#bbb" stroke="#8c8c8c" stroke-width="0.8"/>
<line x1="1235.9" y1="1833.1" x2="1235.9" y2="2010.4" stroke="#777" stroke-width="1.1"/>
<line x1="1242.1" y1="1833.1" x2="1242.1" y2="2010.4" stroke="#8c8c8c" stroke-width="1"/>
<line x1="1301.8" y1="1694.3" x2="1346.8" y2="1694.3" stroke="#4d4d4d" stroke-width="1.1"/>
<line x1="1313" y1="1675" x2="1335.6" y2="1713.6" stroke="#4d4d4d" stroke-width="1.1"/>
<line x1="1335.6" y1="1675" x2="1313" y2="1713.6" stroke="#4d4d4d" stroke-width="1.1"/>
<line x1="1301.8" y1="1744.8" x2="1346.8" y2="1744.8" stroke="#999" stroke-width="1.1"/>
<line x1="1313" y1="1725.5" x2="1335.6" y2="1764.1" stroke="#4d4d4d" stroke-width="1.1"/>
<line x1="1335.6" y1="1725.5" x2="1313" y2="1764.1" stroke="#4d4d4d" stroke-width="1.1"/>
<line x1="1301.8" y1="1795" x2="1346.8" y2="1795" stroke="#999" stroke-width="1.1"/>
<line x1="1313" y1="1775.7" x2="1335.6" y2="1814.3" stroke="#4d4d4d" stroke-width="1.1"/>
<line x1="1335.6" y1="1775.7" x2="1313" y2="1814.3" stroke="#4d4d4d" stroke-width="1.1"/>
<circle cx="692.75" cy="1883.25" r="22.5" fill="none" stroke="#4d4d4d" stroke-width="1.1"/>
<path d="M728.16 1885.73 A35.5 35.5 0 0 1 675 1913.99 M671.88 1911.97 A35.5 35.5 0 1 1 728.16 1880.77" fill="none" stroke="#4d4d4d" stroke-width="1.1"/>
<circle cx="769.25" cy="1877.75" r="25" fill="none" stroke="#4d4d4d" stroke-width="1.1"/>
<circle cx="686.75" cy="1966" r="22.5" fill="none" stroke="#4d4d4d" stroke-width="1.1"/>
<circle cx="761.75" cy="1957.5" r="22.5" fill="none" stroke="#4d4d4d" stroke-width="1.1"/>
<path d="M799.91 1960.17 A38.25 38.25 0 0 1 747.42 1992.96 M737.16 1986.8 A38.25 38.25 0 0 1 735.18 1929.99 M748.67 1921.56 A38.25 38.25 0 0 1 799.91 1954.83" fill="none" stroke="#4d4d4d" stroke-width="1.1"/>
<line x1="914.3" y1="2054.5" x2="1022.5" y2="2054.5" stroke="#777" stroke-width="1.2"/>
<path d="M914.25 2054.5 A29.5 29.5 0 0 0 973.25 2054.5 M921.75 2054.5 A22 22 0 0 0 965.75 2054.5" fill="none" stroke="#4d4d4d" stroke-width="1.1"/>
<path d="M1021.3 2054.5 A36.75 36.75 0 1 1 953.9 2082.3 M1010.33 2054.5 A28 28 0 1 1 962.3 2077.6" fill="none" stroke="#4d4d4d" stroke-width="1.1"/>
<path d="M935 2127.5 L926.6 2111.4 A9.25 9.25 0 1 1 943.4 2111.4 Z" fill="none" stroke="#4d4d4d" stroke-width="1.1"/>
<path d="M952.5 2161.75 L941.5 2141.2 A12 12 0 1 1 963.5 2141.2 Z" fill="none" stroke="#4d4d4d" stroke-width="1.1"/>
<rect x="1076.5" y="2057.5" width="47.7" height="95" fill="none" stroke="#666" stroke-width="1.1" rx="7.5"/>
<rect x="1129.4" y="2028.2" width="89.6" height="124.3" fill="none" stroke="#777" stroke-width="1.1" rx="8"/>
<circle cx="1101.75" cy="2134.25" r="6" fill="none" stroke="#4d4d4d" stroke-width="1.1"/>
<circle cx="1150.5" cy="2122.5" r="6" fill="none" stroke="#4d4d4d" stroke-width="1.1"/>
<circle cx="1108.75" cy="2166.75" r="4.5" fill="none" stroke="#4d4d4d" stroke-width="1.1"/>
<line x1="1107.3" y1="2170.7" x2="1110.2" y2="2162.8" stroke="#4d4d4d" stroke-width="1"/>
<circle cx="1146.25" cy="2166.75" r="4.5" fill="none" stroke="#4d4d4d" stroke-width="1.1"/>
<line x1="1144.7" y1="2162.8" x2="1147.8" y2="2170.7" stroke="#4d4d4d" stroke-width="1"/>
<rect x="1121.6" y="2161.6" width="12" height="11.4" fill="#fff" stroke="#999" stroke-width="1"/>
<g transform="translate(1127.5 2167.3) rotate(-46.9)">
<rect x="-4" y="-4.9" width="44.5" height="9.8" fill="#fff" stroke="#4d4d4d" stroke-width="1.1"/>
<path d="M0 -3.6 A3.6 3.6 0 0 0 0 3.6 H3 L22 1.8 A1.8 1.8 0 0 0 22 -1.8 L3 -3.6 Z" fill="#fff" stroke="#4d4d4d" stroke-width="1"/>
</g>
<!-- bath -->
<line x1="2301.5" y1="1548.1" x2="2301.5" y2="1755" stroke="#8c8c8c" stroke-width="1.1"/>
<line x1="2212.1" y1="1755.1" x2="2804" y2="1755.1" stroke="#666" stroke-width="1.2"/>
<path d="M2407.5 1563.3 H2725 A58.8 55 0 0 1 2783.8 1618.3 V1685.1 A58.8 55 0 0 1 2725 1740.1 H2407.5 A85 88.4 0 0 1 2407.5 1563.3 Z" fill="none" stroke="#666" stroke-width="1.1"/>
<circle cx="2688.25" cy="1651.75" r="32.5" fill="none" stroke="#4d4d4d" stroke-width="1.1"/>
<rect x="2765.8" y="1621.3" width="25.4" height="14.1" fill="#fff" stroke="#8c8c8c" stroke-width="1"/>
<line x1="2769.5" y1="1621.3" x2="2769.5" y2="1635.4" stroke="#8c8c8c" stroke-width="1"/>
<rect x="2782.6" y="1621.3" width="8.6" height="67.9" fill="#fff" stroke="#8c8c8c" stroke-width="1"/>
<rect x="2791.2" y="1625" width="6.8" height="8.3" fill="#fff" stroke="#8c8c8c" stroke-width="1"/>
<rect x="2791.2" y="1669.5" width="6.8" height="8.5" fill="#fff" stroke="#8c8c8c" stroke-width="1"/>
<rect x="2798" y="1620.6" width="5.8" height="17.4" fill="#fff" stroke="#8c8c8c" stroke-width="1"/>
<rect x="2798" y="1665" width="5.8" height="18" fill="#fff" stroke="#8c8c8c" stroke-width="1"/>
<circle cx="2787" cy="1651.5" r="3.6" fill="none" stroke="#4d4d4d" stroke-width="1"/>
<rect x="2694" y="1648.7" width="104" height="6.3" fill="#fff" stroke="#777" stroke-width="1.1"/>
<circle cx="2688.25" cy="1651.75" r="5.75" fill="#fff" stroke="#4d4d4d" stroke-width="1.1"/>
<circle cx="2784.25" cy="1677.5" r="4.25" fill="#fff" stroke="#4d4d4d" stroke-width="1.1"/>
<rect x="2595.8" y="1744.4" width="206.8" height="10" fill="#fff" stroke="#777" stroke-width="1.1"/>
<line x1="2597" y1="1746.2" x2="2802" y2="1746.2" stroke="#aaa" stroke-width="0.8"/>
<line x1="2597.5" y1="1746" x2="2597.5" y2="1754" stroke="#aaa" stroke-width="0.8"/>
<path d="M2804 1784.3 H2678.5 A7 7 0 0 0 2671.4 1791.3 V1984.4 A7 7 0 0 0 2678.5 1991.4 H2804" fill="none" stroke="#777" stroke-width="1.1"/>
<rect x="2680.1" y="1810.7" width="91.6" height="154.8" fill="none" stroke="#666" stroke-width="1.1" rx="26"/>
<path d="M2804 1814.4 H2798.1 V1961.9 H2804" fill="none" stroke="#8c8c8c" stroke-width="1"/>
<circle cx="2730" cy="1887.5" r="7.5" fill="none" stroke="#4d4d4d" stroke-width="1"/>
<line x1="2718" y1="1887.5" x2="2742" y2="1887.5" stroke="#777" stroke-width="0.9"/>
<line x1="2730" y1="1875.5" x2="2730" y2="1899.5" stroke="#777" stroke-width="0.9"/>
<rect x="2747.1" y="1882.4" width="47.2" height="11" fill="#fff" stroke="#8c8c8c" stroke-width="1"/>
<path d="M2791.5 1884 Q2793.5 1887.8 2791.5 1892 H2785 L2767 1890.3 A2.6 2.6 0 0 1 2767 1885.3 L2785 1884 Z" fill="#fff" stroke="#4d4d4d" stroke-width="1"/>
<circle cx="2788.25" cy="1869.25" r="4.5" fill="none" stroke="#4d4d4d" stroke-width="1"/>
<line x1="2785.2" y1="1871.3" x2="2791.3" y2="1867.2" stroke="#4d4d4d" stroke-width="1"/>
<circle cx="2788.25" cy="1906.25" r="4.5" fill="none" stroke="#4d4d4d" stroke-width="1"/>
<line x1="2785.2" y1="1904.2" x2="2791.3" y2="1908.3" stroke="#4d4d4d" stroke-width="1"/>
<path d="M2804 2006.3 H2671.5 V2207.3" fill="none" stroke="#8c8c8c" stroke-width="1.1"/>
<line x1="2322.7" y1="2164.2" x2="2671.5" y2="2164.2" stroke="#666" stroke-width="1.2"/>
<path d="M2402.5 2164.2 V2058.5 A53 53 0 0 1 2508.5 2058.5 V2164.2" fill="none" stroke="#666" stroke-width="1.1"/>
<path d="M2417.3 2059 A38.5 38.5 0 0 1 2494.3 2059 V2130.5 A10 10 0 0 1 2484.3 2140.5 H2427.3 A10 10 0 0 1 2417.3 2130.5 Z" fill="none" stroke="#666" stroke-width="1.1"/>
<path d="M2440.5 2126.3 V2110 A15 15 0 0 1 2470.5 2110 V2126.3 M2440.5 2115 H2470.5" fill="none" stroke="#666" stroke-width="1.1"/>
<line x1="1903.6" y1="2031.2" x2="2174.5" y2="2031.2" stroke="#666" stroke-width="1.2"/>
<line x1="1998" y1="2031.2" x2="1998" y2="2207.3" stroke="#8c8c8c" stroke-width="1.2"/>
<rect x="2027.5" y="2022.5" width="118" height="8.7" fill="#fff" stroke="#666" stroke-width="1.1"/>
<circle cx="2086.5" cy="2119.5" r="50.2" fill="none" stroke="#4d4d4d" stroke-width="1.1"/>
<path d="M2088 2090 A30 30 0 0 1 2107.5 2140.5" fill="none" stroke="#4d4d4d" stroke-width="1.1"/>
<path d="M2065.7 2098.7 A30 30 0 0 0 2085 2149.2" fill="none" stroke="#4d4d4d" stroke-width="1.1"/>
<path d="M2071.3 2090 L2086.5 2081.5 V2099.2 Z" fill="none" stroke="#4d4d4d" stroke-width="1.1"/>
<path d="M2101.7 2149.2 L2086.5 2140.5 V2158.2 Z" fill="none" stroke="#4d4d4d" stroke-width="1.1"/>
<circle cx="1785.4" cy="1528.9" r="66.9" fill="none" stroke="#4d4d4d" stroke-width="1.2"/>
<path d="M1756.9 1496.4 l4.5 4.5 l-4.5 4.5 l-4.5 -4.5 Z" fill="none" stroke="#4d4d4d" stroke-width="1.2"/>
<path d="M1813.75 1496.4 l4.5 4.5 l-4.5 4.5 l-4.5 -4.5 Z" fill="none" stroke="#4d4d4d" stroke-width="1.2"/>
<path d="M1756.9 1553.4 l4.5 4.5 l-4.5 4.5 l-4.5 -4.5 Z" fill="none" stroke="#4d4d4d" stroke-width="1.2"/>
<path d="M1813.75 1553.4 l4.5 4.5 l-4.5 4.5 l-4.5 -4.5 Z" fill="none" stroke="#4d4d4d" stroke-width="1.2"/>
<rect x="1859.1" y="1402.3" width="6.9" height="254" fill="#fff" stroke="#777" stroke-width="1"/>
<path d="M1863.2 1410.7 H1845.8 A8.8 8.8 0 0 0 1837 1419.5 V1640 A7.5 7.5 0 0 0 1844.5 1647.5 H1863.2 Z" fill="#fff" stroke="#8c8c8c" stroke-width="1.2"/>
<line x1="1863.2" y1="1410.7" x2="1863.2" y2="1647.5" stroke="#666" stroke-width="1"/>
<!-- text -->
</svg>
<div class="t w" style="left:1315.69px;top:929.75px;letter-spacing:2.08px">Гостиная</div>
<svg class="n" style="left:1307px;top:1036px" width="245" height="110" viewBox="1307 1036 245 110"><text x="1317.08 1366.56 1411.59 1432.98 1481.26" y="1117">18.60</text></svg>
<div class="t u" style="left:1549.46px;top:1037.75px;letter-spacing:1.88px">м²</div>
<div class="t w" style="left:2259.54px;top:747.75px;letter-spacing:1.3px">Спальня</div>
<svg class="n" style="left:2234px;top:852px" width="246" height="110" viewBox="2234 852 246 110"><text x="2244.78 2292.71 2338.94 2360.01 2409.16" y="933">12.20</text></svg>
<div class="t u" style="left:2477.16px;top:853.75px;letter-spacing:1.48px">м²</div>
<div class="t w" style="left:823.91px;top:1651.75px;letter-spacing:2.56px">Кухня-ниша</div>
<svg class="n" style="left:889px;top:1757px" width="198" height="110" viewBox="889 1757 198 110"><text x="899.58 945.54 967.81 1016.01" y="1838">4.00</text></svg>
<div class="t u" style="left:1083.46px;top:1759.75px;letter-spacing:1.93px">м²</div>
<div class="t w" style="left:1518.43px;top:1685.75px;letter-spacing:4.27px">Коридор</div>
<svg class="n" style="left:1532px;top:1791px" width="197" height="110" viewBox="1532 1791 197 110"><text x="1542.11 1588.69 1610.38 1658.61" y="1872">2.60</text></svg>
<div class="t u" style="left:1726.66px;top:1793.75px;letter-spacing:1.68px">м²</div>
<div class="t c" style="left:2369.77px;top:1760.75px;letter-spacing:10.36px">С/У</div>
<svg class="n" style="left:2311px;top:1866px" width="196" height="110" viewBox="2311 1866 196 110"><text x="2321.18 2366.64 2387.06 2436.46" y="1947">6.30</text></svg>
<div class="t u" style="left:2504.01px;top:1868.75px;letter-spacing:1.78px">м²</div>
</body></html>
